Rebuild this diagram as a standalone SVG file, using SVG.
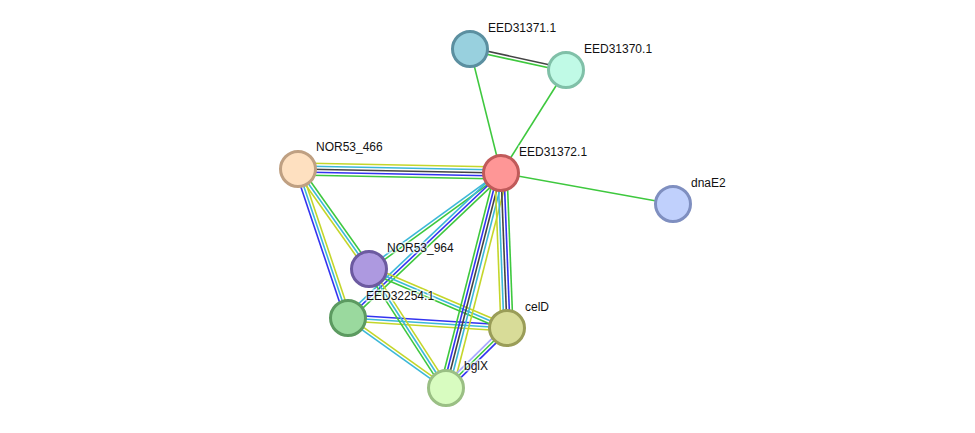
<svg xmlns="http://www.w3.org/2000/svg" width="975" height="433" viewBox="0 0 975 433">
<style>
.e{fill:none;stroke-width:1.6}
.g{stroke:#3ec83e}.b{stroke:#3333f0}.k{stroke:#444444}.c{stroke:#3cb8d8}.y{stroke:#c4d62a}.p{stroke:#a8a8ff}
.n{stroke-width:3}
.t{font-family:"Liberation Sans",Arial,sans-serif;font-size:12px;fill:#111;stroke:#fff;stroke-width:3;stroke-opacity:0.6;paint-order:stroke}
</style>
<rect width="975" height="433" fill="#fff"/>
<g id="edges">
<path class="e k" d="M470.3,47.5L566.3,68.5"/>
<path class="e g" d="M469.7,50.5L565.7,71.5"/>
<path class="e g" d="M470,49L501,173"/>
<path class="e g" d="M566,70L501,173"/>
<path class="e g" d="M501,173L673,204"/>
<path class="e y" d="M298.1,163L501.1,167"/>
<path class="e c" d="M298.1,166L501.1,170"/>
<path class="e k" d="M298,169L501,173"/>
<path class="e b" d="M297.9,172L500.9,176"/>
<path class="e g" d="M297.9,175L500.9,179"/>
<path class="e b" d="M295.2,170L345.2,319"/>
<path class="e c" d="M298,169L348,318"/>
<path class="e y" d="M300.8,168L350.8,317"/>
<path class="e g" d="M300.5,167.3L371.5,267.3"/>
<path class="e c" d="M298,169L369,269"/>
<path class="e y" d="M295.6,170.7L366.6,270.7"/>
<path class="e c" d="M500.1,171.8L368.1,267.8"/>
<path class="e g" d="M501.9,174.2L369.9,270.2"/>
<path class="e c" d="M498.9,170.8L345.9,315.8"/>
<path class="e b" d="M501,173L348,318"/>
<path class="e g" d="M503.1,175.2L350.1,320.2"/>
<path class="e b" d="M348.2,315L507.2,325"/>
<path class="e c" d="M348,318L507,328"/>
<path class="e y" d="M347.8,321L506.8,331"/>
<path class="e y" d="M348.9,316.8L446.9,386.8"/>
<path class="e c" d="M347.1,319.2L445.1,389.2"/>
<path class="e y" d="M370.2,266.2L508.2,325.2"/>
<path class="e c" d="M369,269L507,328"/>
<path class="e g" d="M367.8,271.8L505.8,330.8"/>
<path class="e g" d="M366.5,270.6L443.5,389.6"/>
<path class="e c" d="M369,269L446,388"/>
<path class="e y" d="M371.5,267.4L448.5,386.4"/>
<path class="e g" d="M495.2,171.5L440.2,386.5"/>
<path class="e b" d="M498.1,172.3L443.1,387.3"/>
<path class="e k" d="M501,173L446,388"/>
<path class="e c" d="M503.9,173.7L448.9,388.7"/>
<path class="e y" d="M507.8,174.7L452.8,389.7"/>
<path class="e y" d="M495,173.2L501,328.2"/>
<path class="e c" d="M498,173.1L504,328.1"/>
<path class="e k" d="M501,173L507,328"/>
<path class="e b" d="M504,172.9L510,327.9"/>
<path class="e g" d="M507,172.8L513,327.8"/>
<path class="e p" d="M504.9,325.9L443.9,385.9"/>
<path class="e g" d="M507,328L446,388"/>
<path class="e b" d="M509.1,330.1L448.1,390.1"/>
</g>
<g id="EED31371.1"><circle class="n" cx="470" cy="49" r="17.5" fill="#98d0de" stroke="#5b8fa0"/><text class="t" x="488" y="32">EED31371.1</text></g>
<g id="EED31370.1"><circle class="n" cx="566" cy="70" r="17.5" fill="#c0fae6" stroke="#80c0a8"/><text class="t" x="584" y="53">EED31370.1</text></g>
<g id="EED31372.1"><circle class="n" cx="501" cy="173" r="17.5" fill="#fe9696" stroke="#c05a5a"/><text class="t" x="519" y="156">EED31372.1</text></g>
<g id="dnaE2"><circle class="n" cx="673" cy="204" r="17.5" fill="#c0d0fc" stroke="#7f8fc0"/><text class="t" x="691" y="187">dnaE2</text></g>
<g id="NOR53_466"><circle class="n" cx="298" cy="169" r="17.5" fill="#fee0c0" stroke="#bfa082"/><text class="t" x="316" y="151">NOR53_466</text></g>
<g id="NOR53_964"><circle class="n" cx="369" cy="269" r="17.5" fill="#ad99e0" stroke="#6c5aa0"/><text class="t" x="387" y="252">NOR53_964</text></g>
<g id="EED32254.1"><circle class="n" cx="348" cy="318" r="17.5" fill="#9ad99e" stroke="#5c9a60"/><text class="t" x="366" y="300">EED32254.1</text></g>
<g id="celD"><circle class="n" cx="507" cy="328" r="17.5" fill="#d8dc98" stroke="#9a9d58"/><text class="t" x="525" y="311">celD</text></g>
<g id="bglX"><circle class="n" cx="446" cy="388" r="17.5" fill="#d8fcc0" stroke="#9abf84"/><text class="t" x="464" y="370">bglX</text></g>
</svg>
